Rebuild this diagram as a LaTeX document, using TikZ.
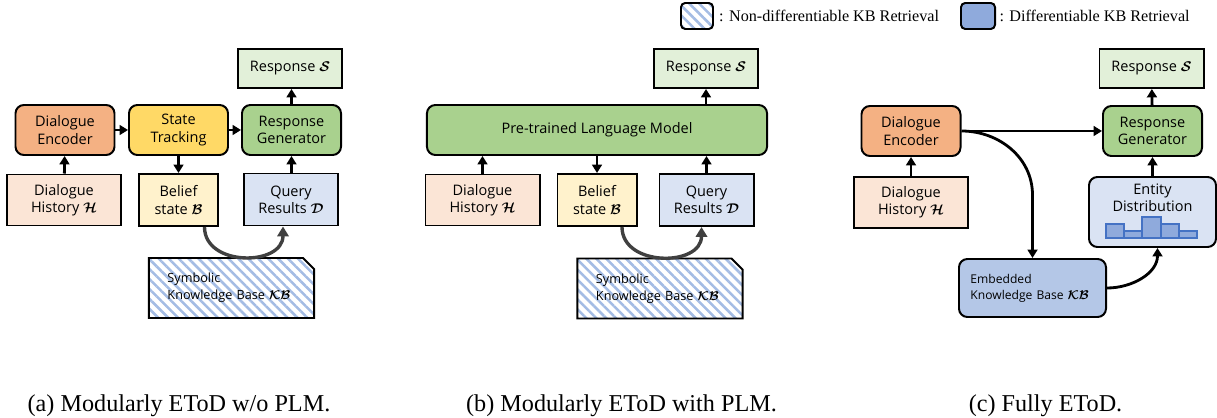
\documentclass[tikz,border=0pt]{standalone}
\usepackage{amsmath,amssymb}
\usepackage{fontspec}
\setmainfont{Liberation Serif}
\newfontfamily\boxfont{Open Sans}
\usetikzlibrary{arrows.meta,shapes.misc,positioning,calc,patterns.meta}

\definecolor{encorange}{HTML}{F4B183}
\definecolor{stateyellow}{HTML}{FFD966}
\definecolor{gengreen}{HTML}{A9D18E}
\definecolor{respgreen}{HTML}{E2F0D9}
\definecolor{histpeach}{HTML}{FBE5D6}
\definecolor{beliefyellow}{HTML}{FFF2CC}
\definecolor{queryblue}{HTML}{DAE3F3}
\definecolor{embblue}{HTML}{B4C7E7}
\definecolor{legblue}{HTML}{8FAADC}
\definecolor{barline}{HTML}{4472C4}
\definecolor{hatchblue}{HTML}{A4BCE4}
\definecolor{curvegray}{HTML}{404040}

\newcommand{\boxtext}{\boxfont\fontsize{10.3}{12.3}\selectfont}
\newcommand{\kbtext}{\boxfont\fontsize{9}{12}\selectfont}
\newcommand{\embtext}{\boxfont\fontsize{8.6}{11.5}\selectfont}
\newcommand{\legtext}{\fontsize{11.5}{13}\selectfont}
\newcommand{\captext}{\fontsize{17.2}{20}\selectfont}
\newcommand{\bcal}[1]{\boldsymbol{\mathcal{#1}}}

\begin{document}
\begin{tikzpicture}[x=0.025cm,y=0.025cm,
  box/.style={draw,line width=1.4pt,align=center,font=\boxtext,inner sep=0pt},
  rbox/.style={box,rounded corners=6pt},
  module/.style={rbox,minimum width=2.475cm,minimum height=1.25cm},
  resp/.style={box,fill=respgreen,minimum width=2.6cm,minimum height=0.975cm},
  hist/.style={box,fill=histpeach,minimum width=2.85cm,minimum height=1.275cm},
  belief/.style={box,fill=beliefyellow,minimum width=1.975cm,minimum height=1.3cm},
  query/.style={box,fill=queryblue,minimum width=2.35cm,minimum height=1.3cm},
  kbhatch/.style={pattern={Lines[angle=-45,distance=5pt,line width=1.8pt]},pattern color=hatchblue},
  symkb/.style={draw,line width=1.4pt,kbhatch,chamfered rectangle,chamfered rectangle corners=north east,
    chamfered rectangle xsep=4pt,chamfered rectangle ysep=4pt,font=\kbtext,align=left,
    text width=3.2cm,inner xsep=0.325cm,minimum height=1.5cm},
  legbox/.style={draw,line width=1.4pt,rounded corners=3pt,minimum width=0.8cm,minimum height=0.65cm},
  arr/.style={line width=2pt,-{Triangle[length=6pt,width=7pt]}},
  garr/.style={line width=2.4pt,curvegray,-{Triangle[length=7pt,width=8pt]}},
  bar/.style={draw=barline,fill=legblue,line width=0.8pt},
  caption/.style={font=\captext,anchor=base}]
\useasboundingbox (0,0) rectangle (1217,-418);
%legend
\node[legbox,kbhatch] (leg_nd) at (697,-16) {};
\node[right=0pt of leg_nd,font=\legtext] (leg_nd_txt) {: Non-differentiable KB Retrieval};
\node[legbox,fill=legblue,minimum width=0.85cm] (leg_d) at (978,-16) {};
\node[right=-1pt of leg_d,font=\legtext] (leg_d_txt) {: Differentiable KB Retrieval};
%(a) modularly EToD w/o PLM
\node[module,fill=encorange] (enc_a) at (65,-130) {Dialogue\\Encoder};
\node[module,fill=stateyellow] (st_a) at (178.5,-130) {State\\Tracking};
\node[module,fill=gengreen] (rg_a) at (291.5,-130) {Response\\Generator};
\node[resp] (resp_a) at (290,-68.5) {Response $\bcal{S}$};
\node[hist] (hist_a) at (64,-200) {Dialogue\\History $\bcal{H}$};
\node[belief] (bel_a) at (178.5,-200) {Belief\\state $\bcal{B}$};
\node[query] (qr_a) at (291,-199.5) {Query\\Results $\bcal{D}$};
\node[symkb] (kb_a) at (231.5,-288) {Symbolic\\Knowledge Base $\bcal{KB}$};
\draw[arr] (enc_a) -- (st_a); \draw[arr] (st_a) -- (rg_a);
\draw[arr] (hist_a) -- (enc_a); \draw[arr] (st_a) -- (bel_a);
\draw[arr] (qr_a.north -| rg_a) -- (rg_a); \draw[arr] (rg_a.north) -- (resp_a.south -| rg_a);
\draw[garr] ($(bel_a.south)+(26,0)$) .. controls +(0,-40) and +(0,-40) .. ($(qr_a.south)+(-8,0)$);
%(b) modularly EToD with PLM
\node[rbox,fill=gengreen,minimum width=8.5cm,minimum height=1.25cm] (plm) at (597,-130) {Pre-trained Language Model};
\node[resp] (resp_b) at (706,-68.5) {Response $\bcal{S}$};
\node[hist] (hist_b) at (482.5,-200) {Dialogue\\History $\bcal{H}$};
\node[belief] (bel_b) at (597,-200) {Belief\\state $\bcal{B}$};
\node[query] (qr_b) at (706.5,-200) {Query\\Results $\bcal{D}$};
\node[symkb] (kb_b) at (660,-288.5) {Symbolic\\Knowledge Base $\bcal{KB}$};
\draw[arr] (hist_b) -- (hist_b |- plm.south); \draw[arr] (plm.south -| bel_b) -- (bel_b);
\draw[arr] (qr_b) -- (qr_b |- plm.south); \draw[arr] (plm.north -| resp_b) -- (resp_b);
\draw[garr] ($(bel_b.south)+(25,0)$) .. controls +(0,-40) and +(0,-40) .. ($(qr_b.south)+(-5,0)$);
%(c) fully EToD
\node[module,fill=encorange] (enc_c) at (911,-131) {Dialogue\\Encoder};
\node[module,fill=gengreen] (rg_c) at (1152.5,-131) {Response\\Generator};
\node[resp] (resp_c) at (1151.5,-68.5) {Response $\bcal{S}$};
\node[hist] (hist_c) at (911,-202.5) {Dialogue\\History $\bcal{H}$};
\node[rbox,fill=queryblue,minimum width=3.175cm,minimum height=1.75cm] (ed_c) at (1152.5,-212) {};
\node[font=\boxtext,align=center] (ed_lab) at (1152.5,-198) {Entity\\Distribution};
\foreach \xa/\xb/\yt in {1106/1124/224,1124/1142/231,1142/1161/217,1161/1179/224,1179/1197/231}
  \draw[bar] (\xa,-238) rectangle (\xb,-\yt);
\node[rbox,fill=embblue,font=\embtext,align=left,text width=3.1cm,inner xsep=0.2875cm,minimum height=1.45cm] (kb_c) at (1032.5,-288) {Embedded\\Knowledge Base $\bcal{KB}$};
\coordinate (turn_c) at (kb_c.north |- 0,-195);
\draw[arr] (hist_c) -- (enc_c); \draw[arr] (enc_c.east) -- (rg_c.west);
\draw[arr] (enc_c.east) to[out=0,in=90] (turn_c) -- (kb_c.north);
\draw[arr] (kb_c.east) to[out=0,in=-90] ($(ed_c.south)+(5,0)$);
\draw[arr] (ed_c) -- (rg_c); \draw[arr] (rg_c) -- (resp_c);
%captions
\node[caption] (cap_a) at (179,-412) {(a) Modularly EToD w/o PLM.};
\node[caption] (cap_b) at (621.5,-412) {(b) Modularly EToD with PLM.};
\node[caption] (cap_c) at (1045.5,-412) {(c) Fully EToD.};
\end{tikzpicture}
\end{document}
